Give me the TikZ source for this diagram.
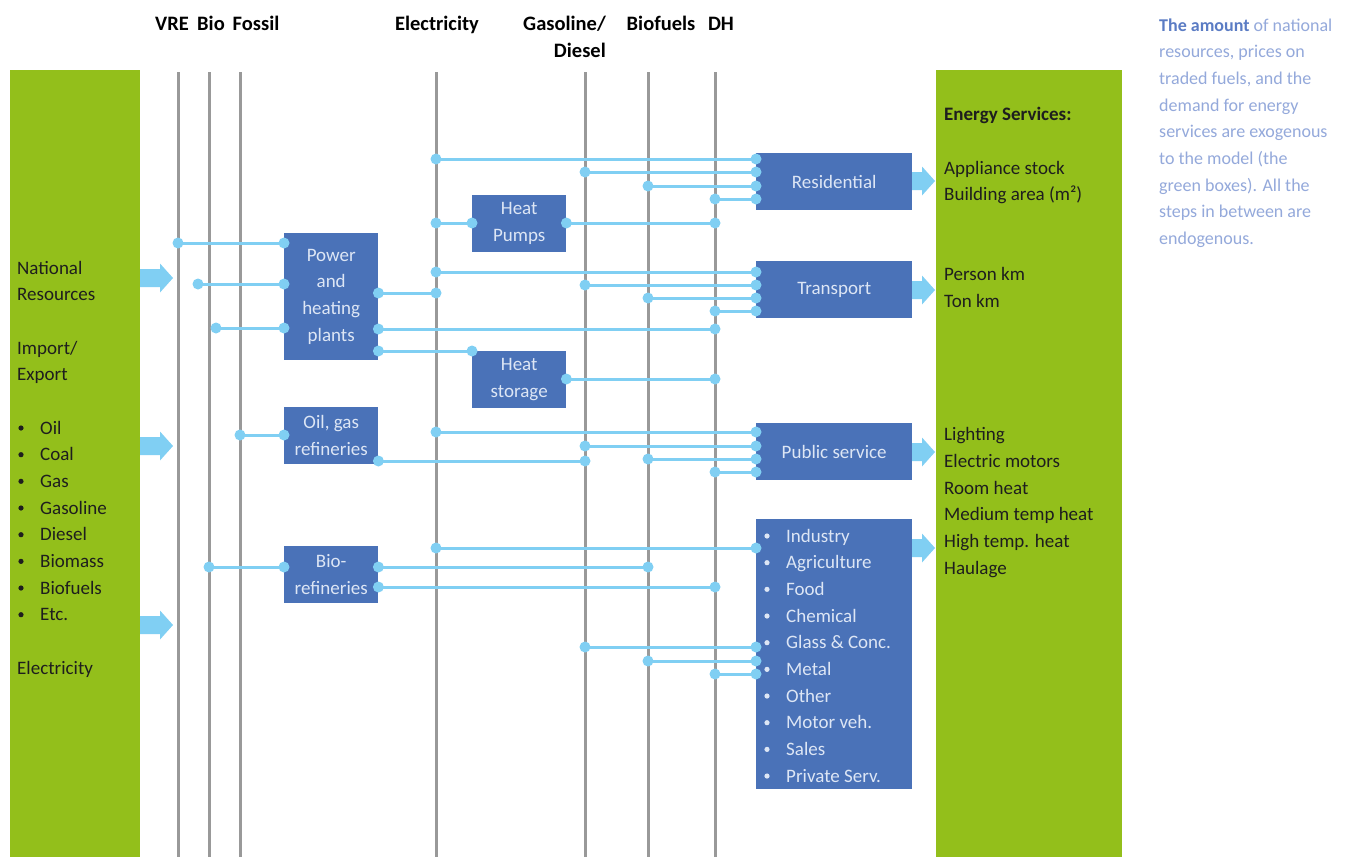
\documentclass[tikz,border=0pt]{standalone}
\usepackage{fontspec}
\setmainfont{Carlito}
\definecolor{cGreen}{HTML}{93BF1B}
\definecolor{cBlue}{HTML}{4A72B8}
\definecolor{cLB}{HTML}{80CFF3}
\definecolor{cGray}{HTML}{999999}
\definecolor{cBoxTxt}{HTML}{DDE6F5}
\definecolor{cNote}{HTML}{94A9DB}
\definecolor{cNoteB}{HTML}{5B7CC4}
\definecolor{cDark}{HTML}{1E1E1E}
\newcommand\mylink[3]{%
  \draw[link] (#2 |- 0,#1) -- (#3 |- 0,#1);
  \fill[cLB] (#2 |- 0,#1) circle (5.5pt) (#3 |- 0,#1) circle (5.5pt);}
\newcommand\fatarrow[4]{%
  \fill[cLB] (#1,{#2-9}) -- ({#1+#3},{#2-9}) -- ({#1+#3},{#2-14.5}) -- ({#1+#4},#2)
    -- ({#1+#3},{#2+14.5}) -- ({#1+#3},{#2+9}) -- (#1,{#2+9}) -- cycle;}
\begin{document}
\begin{tikzpicture}[x=1pt,y=-1pt,
  greenbox/.style={fill=cGreen, draw=none, inner sep=0pt, anchor=north west},
  bus/.style={cGray, line width=3pt},
  link/.style={cLB, line width=3pt},
  bluebox/.style={fill=cBlue, draw=none, text=cBoxTxt, inner sep=0pt, anchor=north west, align=center, font=\fontsize{19}{26.7}\selectfont},
  txt/.style={inner sep=0pt, anchor=base west, font=\fontsize{19}{26.7}\selectfont, text=cDark},
  wtxt/.style={inner sep=0pt, anchor=base west, font=\fontsize{19}{26.7}\selectfont, text=cBoxTxt},
  note/.style={inner sep=0pt, anchor=base west, font=\fontsize{18}{26.7}\selectfont, text=cNote},
  hdr/.style={inner sep=0pt, anchor=base, font=\bfseries\fontsize{20.5}{27}\selectfont, text=black},
]
\useasboundingbox (0,0) rectangle (1359,857);
\fill[white] (0,0) rectangle (1359,857);

% green boxes
\node[greenbox, minimum width=130pt, minimum height=787pt] (src) at (10,70) {};
\node[greenbox, minimum width=186pt, minimum height=787pt] (svc) at (936,70) {};

% headers
\node[hdr] (hVRE) at (172,30) {VRE};
\node[hdr] (hBio) at (211,30) {Bio};
\node[hdr] (hFos) at (256,30) {Fossil};
\node[hdr] (hEle) at (437,30) {Electricity};
\node[hdr, anchor=base east] (hGas) at (606,30) {Gasoline/};
\node[hdr, anchor=base east] (hDie) at (606,57) {Diesel};
\node[hdr] (hBfu) at (661,30) {Biofuels};
\node[hdr] (hDH) at (721,30) {DH};

% bus lines
\coordinate (vre) at (178,72);
\coordinate (bio) at (209,72);
\coordinate (fos) at (240,72);
\coordinate (ele) at (436,72);
\coordinate (gas) at (585,72);
\coordinate (bfu) at (648,72);
\coordinate (dh)  at (715,72);
\foreach \b in {vre,bio,fos,ele,gas,bfu,dh}{\draw[bus] (\b) -- (\b |- 0,857);}
\coordinate (dA) at (198,72);
\coordinate (dB) at (216,72);

% blue boxes
\node[bluebox, minimum width=94pt, minimum height=127pt] (pp) at (284,233) {Power\\and\\heating\\plants};
\node[bluebox, minimum width=94pt, minimum height=57pt] (hp) at (472,195) {Heat\\Pumps};
\node[bluebox, minimum width=94pt, minimum height=57pt] (hs) at (472,351) {Heat\\storage};
\node[bluebox, minimum width=94pt, minimum height=57pt] (ogr) at (284,407) {Oil, gas\\refineries};
\node[bluebox, minimum width=94pt, minimum height=57pt] (bior) at (284,546) {Bio-\\refineries};
\node[bluebox, minimum width=156pt, minimum height=57pt] (res) at (756,153) {Residential};
\node[bluebox, minimum width=156pt, minimum height=57pt] (tra) at (756,261) {Transport};
\node[bluebox, minimum width=156pt, minimum height=57pt] (pub) at (756,423) {Public service};
\node[bluebox, minimum width=156pt, minimum height=270pt] (ind) at (756,519) {};
\foreach \t [count=\i] in {Industry,Agriculture,Food,Chemical,Glass \& Conc.,Metal,Other,Motor veh.,Sales,Private Serv.}{
  \node[wtxt] (ind\i) at (786,{542+26.67*(\i-1)}) {\t};
  \fill[cBoxTxt] (767,{536+26.67*(\i-1)}) circle (2.6pt);
}

% connectors
\mylink{159}{ele}{res.west}
\mylink{172}{gas}{res.west}
\mylink{186}{bfu}{res.west}
\mylink{199}{dh}{res.west}
\mylink{223}{ele}{hp.west}
\mylink{223}{hp.east}{dh}
\mylink{243}{vre}{pp.west}
\mylink{284}{dA}{pp.west}
\mylink{328}{dB}{pp.west}
\mylink{293}{pp.east}{ele}
\mylink{329}{pp.east}{dh}
\mylink{351}{pp.east}{hs.west}
\mylink{379}{hs.east}{dh}
\mylink{272}{ele}{tra.west}
\mylink{285}{gas}{tra.west}
\mylink{298}{bfu}{tra.west}
\mylink{311}{dh}{tra.west}
\mylink{435}{fos}{ogr.west}
\mylink{461}{ogr.east}{gas}
\mylink{432}{ele}{pub.west}
\mylink{446}{gas}{pub.west}
\mylink{459}{bfu}{pub.west}
\mylink{472}{dh}{pub.west}
\mylink{567}{bio}{bior.west}
\mylink{567}{bior.east}{bfu}
\mylink{587}{bior.east}{dh}
\mylink{548}{ele}{ind.west}
\mylink{647}{gas}{ind.west}
\mylink{661}{bfu}{ind.west}
\mylink{674}{dh}{ind.west}

% fat arrows
\fatarrow{140}{278}{20}{33}
\fatarrow{140}{446}{20}{33}
\fatarrow{140}{625}{20}{33}
\fatarrow{912}{181}{10}{23}
\fatarrow{912}{290}{10}{23}
\fatarrow{912}{452}{10}{23}
\fatarrow{912}{548}{10}{23}

% left text
\node[txt] (sNat) at (17,274) {National};
\node[txt] (sRes) at (17,300) {Resources};
\node[txt] (sImp) at (17,354) {Import/};
\node[txt] (sExp) at (17,380) {Export};
\foreach \t [count=\i] in {Oil,Coal,Gas,Gasoline,Diesel,Biomass,Biofuels,Etc.}{
  \node[txt] (sl\i) at (40,{434+26.67*(\i-1)}) {\t};
  \fill[cDark] (21,{428+26.67*(\i-1)}) circle (2.6pt);
}
\node[txt] (sEl) at (17,674) {Electricity};

% right text
\node[txt, font=\bfseries\fontsize{19}{26.7}\selectfont] (eS) at (944,120) {Energy Services:};
\foreach \yy/\t [count=\i] in {174/Appliance stock,200/Building area (m²),280/Person km,307/Ton km,440/Lighting,467/Electric motors,494/Room heat,520/Medium temp heat,547/High temp. heat,574/Haulage}{
  \node[txt] (es\i) at (944,\yy) {\t};
}

% note
\node[note] (n1) at (1159,31) {\textcolor{cNoteB}{\bfseries The amount} of national};
\foreach \t [count=\i] in {{resources, prices on},{traded fuels, and the},{demand for energy},{services are exogenous},{to the model (the},{green boxes). All the},{steps in between are},{endogenous.}}{
  \node[note] (nn\i) at (1159,{57.7+26.67*(\i-1)}) {\t};
}
\end{tikzpicture}
\end{document}
